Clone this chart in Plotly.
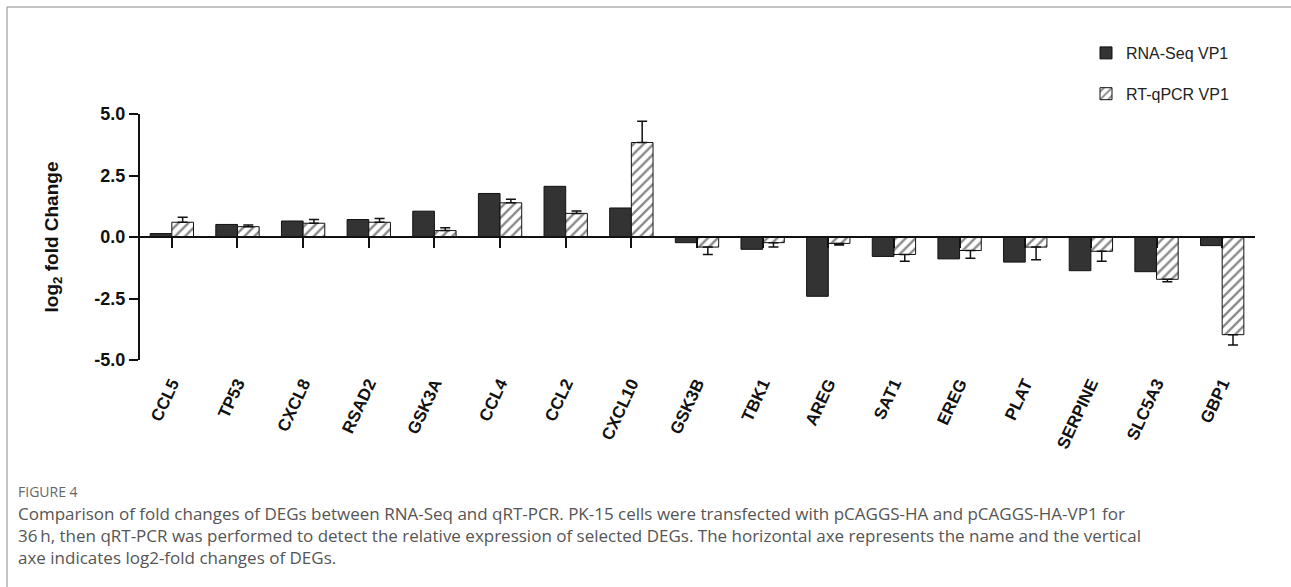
import plotly.graph_objects as go

genes = ["CCL5", "TP53", "CXCL8", "RSAD2", "GSK3A", "CCL4", "CCL2", "CXCL10", "GSK3B",
         "TBK1", "AREG", "SAT1", "EREG", "PLAT", "SERPINE", "SLC5A3", "GBP1"]
rnaseq = [0.14, 0.51, 0.65, 0.71, 1.05, 1.77, 2.06, 1.18, -0.23,
          -0.50, -2.41, -0.79, -0.89, -1.02, -1.37, -1.41, -0.35]
qpcr = [0.60, 0.42, 0.56, 0.60, 0.26, 1.39, 0.96, 3.84, -0.41,
        -0.23, -0.26, -0.71, -0.55, -0.41, -0.58, -1.72, -3.97]
qpcr_err = [0.20, 0.07, 0.15, 0.15, 0.12, 0.14, 0.10, 0.87, 0.30,
            0.18, 0.07, 0.28, 0.31, 0.51, 0.41, 0.10, 0.42]
yticks = [-5.0, -2.5, 0.0, 2.5, 5.0]
ytick_text = ["-5.0", "-2.5", "0.0", "2.5", "5.0"]

W, H = 1291, 587
L, R, T, B = 139, 36, 114, 227


def px_x(p):
    return (p - L) / (W - L - R)


def px_y(p):
    return (H - B - p) / (H - B - T)


err_up = [e if v >= 0 else 0 for v, e in zip(qpcr, qpcr_err)]
err_down = [0 if v >= 0 else e for v, e in zip(qpcr, qpcr_err)]

fig = go.Figure()
fig.add_trace(go.Bar(
    x=genes, y=rnaseq, name="RNA-Seq VP1", legendgroup="a",
    marker=dict(color="#333333", line=dict(color="#111111", width=1)),
))
fig.add_trace(go.Bar(
    x=genes, y=qpcr, name="RT-qPCR VP1", legendgroup="b",
    marker=dict(color="white", line=dict(color="#111111", width=1),
                pattern=dict(shape="/", fgcolor="#111111", bgcolor="white",
                             size=7, solidity=0.33)),
    error_y=dict(type="data", symmetric=False, array=err_up, arrayminus=err_down,
                 color="#111111", thickness=1.5, width=5),
))
# helper trace for the label axis
fig.add_trace(go.Scatter(x=[0], y=[None], xaxis="x2", showlegend=False,
                         hoverinfo="skip", mode="markers"))

fig.update_layout(
    width=W, height=H,
    margin=dict(l=L, r=R, t=T, b=B),
    paper_bgcolor="white", plot_bgcolor="white",
    barmode="group", bargap=0.34, bargroupgap=0,
    font=dict(family="Liberation Sans, Arial, sans-serif", color="#111111"),
    showlegend=True,
    legend=dict(x=px_x(1086), y=px_y(36), xanchor="left", yanchor="top",
                font=dict(size=16, color="#222222"), tracegroupgap=17,
                bgcolor="rgba(0,0,0,0)"),
    xaxis=dict(type="category", categoryarray=genes, range=[-0.5, 16.5],
               anchor="free", position=0.5,
               showline=True, linecolor="#111111", linewidth=2,
               ticks="outside", ticklen=10, tickwidth=2, tickcolor="#111111",
               showticklabels=False, showgrid=False, zeroline=False),
    xaxis2=dict(overlaying="x", anchor="y", side="bottom",
                range=[-0.5, 16.5], tickmode="array",
                tickvals=list(range(len(genes))), ticktext=genes,
                tickangle=-65, ticks="outside", ticklen=6,
                tickcolor="rgba(0,0,0,0)",
                tickfont=dict(size=17, color="#111111",
                              family="Liberation Sans, Arial, sans-serif",
                              weight="bold"),
                showline=False, showgrid=False, zeroline=False),
    yaxis=dict(range=[-5, 5], tickmode="array", tickvals=yticks, ticktext=ytick_text,
               anchor="free", position=0,
               showline=True, linecolor="#111111", linewidth=2,
               ticks="outside", ticklen=9, tickwidth=2, tickcolor="#111111",
               tickfont=dict(size=18, weight="bold", color="#111111"),
               showgrid=False, zeroline=False,
               title=dict(text="log<sub>2</sub> fold Change", standoff=30,
                          font=dict(size=19, weight="bold", color="#111111"))),
)

# figure frame
fig.add_shape(type="rect", xref="paper", yref="paper",
              x0=px_x(7), x1=px_x(1330), y0=px_y(620), y1=px_y(7),
              line=dict(color="#8a8a8a", width=1), fillcolor="rgba(0,0,0,0)",
              layer="below")

cap_font = "Open Sans, Noto Sans, sans-serif"
fig.add_annotation(xref="paper", yref="paper", x=px_x(16), y=px_y(491),
                   xanchor="left", yanchor="middle", showarrow=False,
                   text="FIGURE 4",
                   font=dict(family=cap_font, size=14, color="#666666"))
caption_lines = [
    "Comparison of fold changes of DEGs between RNA-Seq and qRT-PCR. PK-15 cells were transfected with pCAGGS-HA and pCAGGS-HA-VP1 for",
    "36\u2009h, then qRT-PCR was performed to detect the relative expression of selected DEGs. The horizontal axe represents the name and the vertical",
    "axe indicates log2-fold changes of DEGs.",
]
fig.add_annotation(xref="paper", yref="paper", x=px_x(16), y=px_y(535),
                   xanchor="left", yanchor="middle", align="left", showarrow=False,
                   text="<br>".join(caption_lines),
                   font=dict(family=cap_font, size=17, color="#555555"))

fig.write_html("out.html",
               config={"displayModeBar": False},
               post_script="document.body.style.margin='0';"
                           "document.body.style.overflow='hidden';")
